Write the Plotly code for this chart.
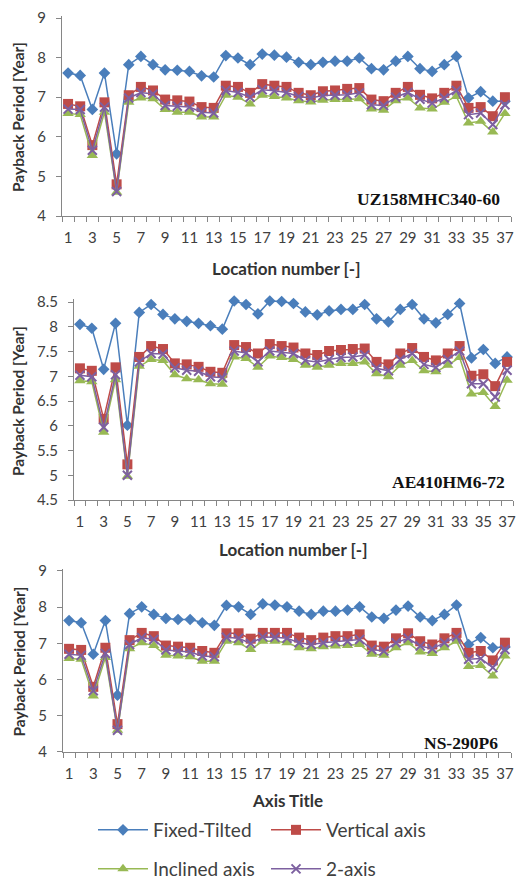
import plotly.graph_objects as go

locations = list(range(1, 38))
tick_labels = [str(i) for i in range(1, 38, 2)]
series_names = ["Fixed-Tilted", "Vertical axis", "Inclined axis", "2-axis"]

# Panel 1: UZ158MHC340-60
uz_fixed = [7.61, 7.55, 6.69, 7.61, 5.57, 7.82, 8.03, 7.82, 7.69, 7.68, 7.65, 7.54, 7.51,
            8.05, 7.99, 7.82, 8.09, 8.06, 8.01, 7.88, 7.82, 7.88, 7.91, 7.91, 7.99, 7.72,
            7.69, 7.91, 8.03, 7.72, 7.65, 7.82, 8.03, 6.98, 7.14, 6.90, 6.90]
uz_vertical = [6.83, 6.77, 5.79, 6.87, 4.80, 7.05, 7.26, 7.17, 6.94, 6.92, 6.89, 6.75, 6.73,
               7.29, 7.26, 7.11, 7.33, 7.29, 7.26, 7.11, 7.05, 7.15, 7.17, 7.21, 7.23, 6.94,
               6.90, 7.11, 7.26, 7.06, 6.97, 7.11, 7.29, 6.73, 6.75, 6.52, 7.00]
uz_inclined = [6.59, 6.56, 5.53, 6.62, 4.60, 6.87, 6.98, 6.96, 6.69, 6.62, 6.62, 6.50, 6.50,
               7.05, 7.00, 6.83, 7.05, 7.02, 6.98, 6.91, 6.88, 6.92, 6.94, 6.94, 6.96, 6.70,
               6.67, 6.91, 6.98, 6.73, 6.70, 6.87, 7.02, 6.35, 6.39, 6.12, 6.59]
uz_2axis = [6.70, 6.69, 5.66, 6.75, 4.62, 6.98, 7.12, 7.08, 6.79, 6.77, 6.75, 6.62, 6.60,
            7.17, 7.12, 7.00, 7.19, 7.16, 7.12, 7.02, 6.98, 7.04, 7.05, 7.06, 7.11, 6.81,
            6.79, 7.00, 7.12, 6.95, 6.85, 6.98, 7.17, 6.56, 6.60, 6.31, 6.81]

# Panel 2: AE410HM6-72
ae_fixed = [8.05, 7.97, 7.14, 8.07, 6.01, 8.29, 8.45, 8.25, 8.16, 8.11, 8.07, 8.02, 7.95,
            8.52, 8.45, 8.26, 8.52, 8.51, 8.47, 8.30, 8.24, 8.32, 8.35, 8.35, 8.45, 8.16,
            8.10, 8.35, 8.45, 8.16, 8.08, 8.25, 8.47, 7.37, 7.54, 7.26, 7.39]
ae_vertical = [7.16, 7.11, 6.14, 7.18, 5.22, 7.39, 7.61, 7.55, 7.26, 7.24, 7.19, 7.09, 7.07,
               7.63, 7.59, 7.46, 7.65, 7.61, 7.58, 7.46, 7.43, 7.51, 7.53, 7.55, 7.56, 7.29,
               7.24, 7.46, 7.57, 7.39, 7.32, 7.46, 7.61, 7.01, 7.04, 6.80, 7.29]
ae_inclined = [6.91, 6.89, 5.87, 6.93, 4.98, 7.20, 7.34, 7.32, 7.03, 6.95, 6.93, 6.85, 6.84,
               7.39, 7.36, 7.18, 7.41, 7.38, 7.34, 7.22, 7.18, 7.22, 7.26, 7.26, 7.29, 7.05,
               6.99, 7.22, 7.32, 7.11, 7.09, 7.22, 7.38, 6.64, 6.67, 6.39, 6.92]
ae_2axis = [7.02, 6.99, 5.97, 7.03, 5.00, 7.29, 7.46, 7.45, 7.17, 7.12, 7.10, 6.99, 6.97,
            7.51, 7.47, 7.29, 7.51, 7.49, 7.46, 7.32, 7.29, 7.34, 7.38, 7.39, 7.43, 7.16,
            7.11, 7.34, 7.46, 7.24, 7.18, 7.34, 7.51, 6.85, 6.85, 6.58, 7.12]

# Panel 3: NS-290P6
ns_fixed = [7.63, 7.57, 6.70, 7.63, 5.57, 7.82, 8.01, 7.80, 7.69, 7.66, 7.66, 7.57, 7.50,
            8.05, 8.01, 7.80, 8.09, 8.06, 8.01, 7.89, 7.80, 7.89, 7.89, 7.92, 8.01, 7.73,
            7.69, 7.92, 8.03, 7.73, 7.63, 7.80, 8.06, 6.97, 7.16, 6.88, 6.90]
ns_vertical = [6.85, 6.82, 5.80, 6.88, 4.77, 7.09, 7.29, 7.20, 6.94, 6.91, 6.88, 6.79, 6.74,
               7.28, 7.28, 7.13, 7.29, 7.29, 7.29, 7.16, 7.09, 7.16, 7.20, 7.20, 7.25, 6.94,
               6.91, 7.14, 7.28, 7.06, 6.97, 7.14, 7.29, 6.74, 6.79, 6.53, 7.02]
ns_inclined = [6.58, 6.56, 5.55, 6.61, 4.60, 6.85, 7.02, 6.94, 6.67, 6.65, 6.63, 6.51, 6.51,
               7.06, 7.02, 6.83, 7.06, 7.06, 7.02, 6.88, 6.85, 6.91, 6.93, 6.94, 6.97, 6.70,
               6.67, 6.88, 7.02, 6.76, 6.72, 6.88, 7.06, 6.36, 6.39, 6.10, 6.65]
ns_2axis = [6.70, 6.67, 5.69, 6.72, 4.60, 6.97, 7.16, 7.11, 6.82, 6.79, 6.76, 6.65, 6.63,
            7.17, 7.14, 7.00, 7.18, 7.17, 7.14, 7.02, 6.97, 7.02, 7.05, 7.06, 7.11, 6.83,
            6.79, 7.02, 7.14, 6.93, 6.85, 7.02, 7.18, 6.56, 6.58, 6.33, 6.83]

panels = [
    ("UZ158MHC340-60", [uz_fixed, uz_vertical, uz_inclined, uz_2axis], [4, 9], 1, "Location number [-]"),
    ("AE410HM6-72", [ae_fixed, ae_vertical, ae_inclined, ae_2axis], [4.5, 8.5], 0.5, "Location number [-]"),
    ("NS-290P6", [ns_fixed, ns_vertical, ns_inclined, ns_2axis], [4, 9], 1, "Axis Title"),
]

W, H = 522, 881
# pixel geometry of each plot area: (left, right, top, bottom)
geo = [(62, 511, 18, 216), (74, 513, 302, 500), (63, 511, 571, 752)]
label_pos = [(502, 199), (507, 482), (500, 743)]   # right edge / centre of panel labels
xtitle_y = [268, 549, 800]
TOP_PAD = 0.06  # small headroom (data units) so markers sitting on the top tick stay visible

colors = ["#4A7EBB", "#BE4B48", "#98B954", "#7D60A0"]
symbols = ["diamond", "square", "triangle-up", "x-thin"]
msizes = [9, 10, 10, 9]

fig = go.Figure()
TICKFONT = dict(family="Lato, Carlito, sans-serif", size=15, color="#404040")

for p, (label, data, yr, dtick, xtitle) in enumerate(panels):
    xa = "x" if p == 0 else f"x{p+1}"
    ya = "y" if p == 0 else f"y{p+1}"
    for s in range(4):
        mk = dict(symbol=symbols[s], size=msizes[s], color=colors[s])
        if symbols[s] == "x-thin":
            mk["line"] = dict(color=colors[s], width=2)
        fig.add_trace(go.Scatter(
            x=locations, y=data[s], mode="lines+markers", name=series_names[s],
            line=dict(color=colors[s], width=1.5), marker=mk, cliponaxis=False,
            xaxis=xa, yaxis=ya, showlegend=(p == 2),
            legend="legend" if s < 2 else "legend2",
        ))
    l, r, t, b = geo[p]
    px_per_unit = (b - t) / (yr[1] - yr[0])
    t_ext = t - TOP_PAD * px_per_unit
    xdom = [l / W, r / W]
    ydom = [1 - b / H, 1 - t_ext / H]
    xkey = "xaxis" if p == 0 else f"xaxis{p+1}"
    ykey = "yaxis" if p == 0 else f"yaxis{p+1}"
    fig.update_layout(**{
        xkey: dict(domain=xdom, anchor=ya, range=[0.5, 37.5],
                   tickmode="array", tickvals=list(range(1, 38, 2)), ticktext=tick_labels,
                   ticks="", showgrid=False, zeroline=False,
                   showline=True, linecolor="#868686", linewidth=1,
                   tickfont=TICKFONT, ticklabelstandoff=8,
                   minor=dict(tickmode="linear", tick0=0.5, dtick=1, ticks="outside",
                              ticklen=5, tickcolor="#868686", showgrid=False)),
        ykey: dict(domain=ydom, anchor=xa, range=[yr[0], yr[1] + TOP_PAD], dtick=dtick, tick0=yr[0],
                   showgrid=False, zeroline=False, showline=True, linecolor="#868686",
                   linewidth=1, ticks="outside", ticklen=5, tickcolor="#868686",
                   tickfont=TICKFONT, ticklabelstandoff=7),
    })
    # panel label
    lx, ly = label_pos[p]
    fig.add_annotation(x=lx / W, y=1 - ly / H, xref="paper", yref="paper",
                       text=f"<b>{label}</b>", showarrow=False, xanchor="right", yanchor="middle",
                       font=dict(family="Liberation Serif, Times New Roman, serif", size=17.5, color="#111"))
    # x axis title
    fig.add_annotation(x=(l + r) / 2 / W, y=1 - xtitle_y[p] / H, xref="paper", yref="paper",
                       text=f"<b>{xtitle}</b>", showarrow=False, xanchor="center", yanchor="middle",
                       font=dict(family="Lato, Carlito, sans-serif", size=17, color="#333"))
    # y axis title
    fig.add_annotation(x=18 / W, y=1 - (t + b) / 2 / H, xref="paper", yref="paper",
                       text="<b>Payback Period [Year]</b>", showarrow=False, textangle=-90,
                       xanchor="center", yanchor="middle",
                       font=dict(family="Lato, Carlito, sans-serif", size=15.5, color="#333"))

LEGFONT = dict(family="Lato, Carlito, sans-serif", size=19, color="#404040")
legend_common = dict(orientation="h", xanchor="left", yanchor="middle",
                     font=LEGFONT, entrywidth=108, entrywidthmode="pixels", itemwidth=50,
                     bgcolor="rgba(0,0,0,0)", tracegroupgap=0)
fig.update_layout(
    width=W, height=H, margin=dict(l=0, r=0, t=0, b=0, autoexpand=False),
    paper_bgcolor="white", plot_bgcolor="white",
    legend=dict(x=93 / W, y=1 - 830 / H, **legend_common),
    legend2=dict(x=93 / W, y=1 - 869 / H, **legend_common),
)

fig.write_html("out.html", config={"displayModeBar": False},
               post_script="document.body.style.margin='0px';")
